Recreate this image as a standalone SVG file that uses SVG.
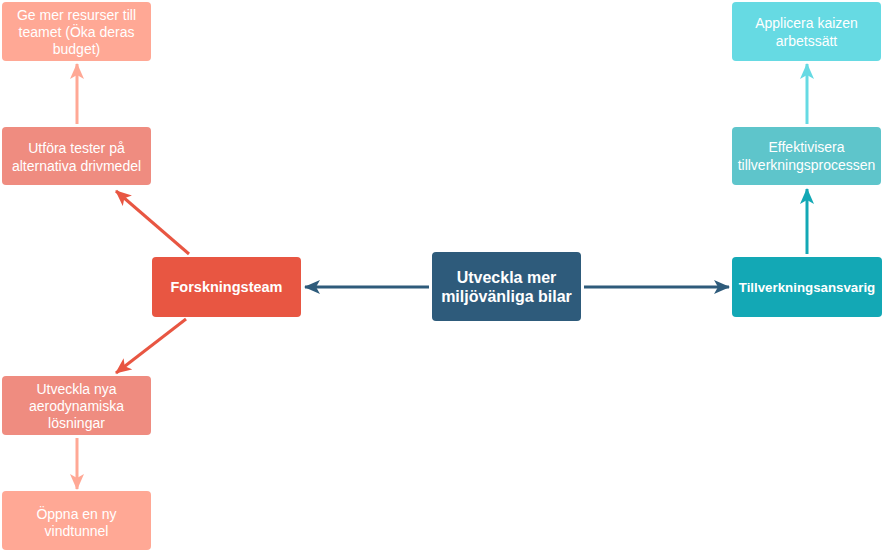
<svg xmlns="http://www.w3.org/2000/svg" width="883" height="553" viewBox="0 0 883 553">
<style>
text{font-family:"Liberation Sans",Arial,sans-serif;fill:#fff;text-anchor:middle}
.n{font-size:14px}
.b{font-weight:bold}
.c{fill:none;stroke-width:3}
</style>
<defs>
<marker id="aBlue" viewBox="0 0 16 14" refX="15" refY="7" markerWidth="16" markerHeight="14" markerUnits="userSpaceOnUse" orient="auto"><path d="M0,0 L16,7 L0,14 L4,7 Z" fill="#2e5b7b"/></marker>
<marker id="aRed" viewBox="0 0 16 14" refX="15" refY="7" markerWidth="16" markerHeight="14" markerUnits="userSpaceOnUse" orient="auto"><path d="M0,0 L16,7 L0,14 L4,7 Z" fill="#e85642"/></marker>
<marker id="aPink" viewBox="0 0 16 14" refX="15" refY="7" markerWidth="16" markerHeight="14" markerUnits="userSpaceOnUse" orient="auto"><path d="M0,0 L16,7 L0,14 L4,7 Z" fill="#ffa895"/></marker>
<marker id="aTeal" viewBox="0 0 16 14" refX="15" refY="7" markerWidth="16" markerHeight="14" markerUnits="userSpaceOnUse" orient="auto"><path d="M0,0 L16,7 L0,14 L4,7 Z" fill="#13a8b5"/></marker>
<marker id="aLteal" viewBox="0 0 16 14" refX="15" refY="7" markerWidth="16" markerHeight="14" markerUnits="userSpaceOnUse" orient="auto"><path d="M0,0 L16,7 L0,14 L4,7 Z" fill="#66dae3"/></marker>
</defs>
<g id="connectors">
<line class="c" x1="429" y1="287" x2="305" y2="287" stroke="#2e5b7b" marker-end="url(#aBlue)"/>
<line class="c" x1="584" y1="287" x2="729" y2="287" stroke="#2e5b7b" marker-end="url(#aBlue)"/>
<line class="c" x1="807" y1="254" x2="807" y2="189" stroke="#13a8b5" marker-end="url(#aTeal)"/>
<line class="c" x1="807" y1="124" x2="807" y2="64" stroke="#66dae3" marker-end="url(#aLteal)"/>
<line class="c" x1="189" y1="254" x2="116" y2="191" stroke="#e85642" marker-end="url(#aRed)"/>
<line class="c" x1="186" y1="319" x2="116" y2="373" stroke="#e85642" marker-end="url(#aRed)"/>
<line class="c" x1="77" y1="124" x2="77" y2="64" stroke="#ffa895" marker-end="url(#aPink)"/>
<line class="c" x1="77" y1="438" x2="77" y2="489" stroke="#ffa895" marker-end="url(#aPink)"/>
</g>
<g id="center"><rect x="432" y="252" width="149" height="69" rx="4" fill="#2e5b7b"/><text class="b" font-size="16" x="506.5" y="283">Utveckla mer</text><text class="b" font-size="16" x="506.5" y="302">miljövänliga bilar</text></g>
<g id="forskningsteam"><rect x="152" y="257" width="149" height="60" rx="4" fill="#e85642"/><text class="b" font-size="14.5" x="226.5" y="292">Forskningsteam</text></g>
<g id="tillverkningsansvarig"><rect x="732" y="257" width="150" height="60" rx="4" fill="#13a8b5"/><text class="b" font-size="13.3" x="807" y="292">Tillverkningsansvarig</text></g>
<g id="effektivisera"><rect x="732" y="127" width="149" height="58" rx="4" fill="#5ec5cb"/><text class="n" x="806.5" y="152">Effektivisera</text><text class="n" x="806.5" y="170">tillverkningsprocessen</text></g>
<g id="applicera"><rect x="732" y="2" width="149" height="59" rx="4" fill="#66dae3"/><text class="n" x="806.5" y="28">Applicera kaizen</text><text class="n" x="806.5" y="46">arbetssätt</text></g>
<g id="utfora"><rect x="2" y="127" width="149" height="58" rx="4" fill="#ef8c80"/><text class="n" x="76.5" y="153">Utföra tester på</text><text class="n" x="76.5" y="171">alternativa drivmedel</text></g>
<g id="gemer"><rect x="2" y="2" width="149" height="59" rx="4" fill="#ffa895"/><text class="n" x="76.5" y="20">Ge mer resurser till</text><text class="n" x="76.5" y="37">teamet (Öka deras</text><text class="n" x="76.5" y="54">budget)</text></g>
<g id="utvecklanya"><rect x="2" y="376" width="149" height="59" rx="4" fill="#ef8c80"/><text class="n" x="76.5" y="394">Utveckla nya</text><text class="n" x="76.5" y="411">aerodynamiska</text><text class="n" x="76.5" y="428">lösningar</text></g>
<g id="oppna"><rect x="2" y="491" width="149" height="59" rx="4" fill="#ffa895"/><text class="n" x="76.5" y="519">Öppna en ny</text><text class="n" x="76.5" y="536">vindtunnel</text></g>
</svg>
